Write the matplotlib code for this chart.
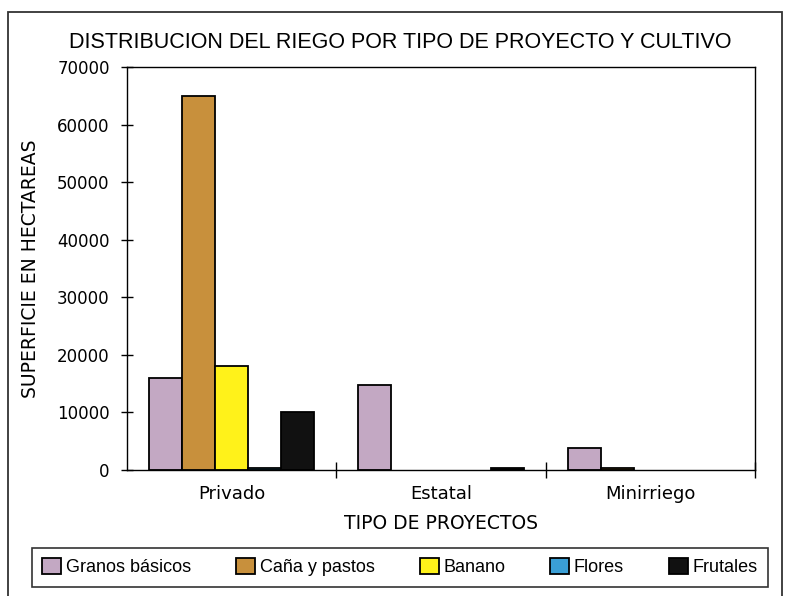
import numpy as np
import matplotlib
matplotlib.use("Agg")
import matplotlib.pyplot as plt
from matplotlib.patches import Rectangle

plt.rcParams['font.family'] = ['Liberation Sans', 'DejaVu Sans']

# data (hectares)
proyectos = ["Privado", "Estatal", "Minirriego"]
cultivos = ["Granos básicos", "Caña y pastos", "Banano", "Flores", "Frutales"]
granos = [16000, 14700, 3900]
cana = [65000, 0, 300]
banano = [18000, 0, 0]
flores = [400, 0, 0]
frutales = [10000, 300, 0]
y_ticks = [0, 10000, 20000, 30000, 40000, 50000, 60000, 70000]

series = [granos, cana, banano, flores, frutales]
colores = ["#c3a8c3", "#c8903c", "#fff21a", "#3a9fd6", "#111111"]

fig = plt.figure(figsize=(7.86, 5.96), dpi=100)
ax = fig.add_axes([0.1616, 0.2114, 0.7990, 0.6762])

x = np.arange(len(proyectos))
w = 0.158
for i, (vals, c) in enumerate(zip(series, colores)):
    # no outline for empty bars, so nothing is drawn along the axis
    lw = [1.3 if v > 0 else 0 for v in vals]
    ax.bar(x + (i - 2) * w, vals, width=w, color=c, edgecolor="black",
           linewidth=lw, label=cultivos[i])

ax.set_xlim(-0.5, 2.5)
ax.set_ylim(0, 70000)
ax.set_yticks(y_ticks)
ax.set_yticklabels([str(v) for v in y_ticks], fontsize=12, family="DejaVu Sans")
ax.tick_params(axis="y", direction="inout", length=9, width=1, pad=8)

ax.set_xticks(x)
ax.set_xticklabels(proyectos, fontsize=13, family="DejaVu Sans")
ax.tick_params(axis="x", which="major", length=0, pad=11)
ax.set_xticks([0.5, 1.5, 2.5], minor=True)
ax.tick_params(axis="x", which="minor", direction="inout", length=12, width=1)

for s in ax.spines.values():
    s.set_linewidth(1)

ax.set_xlabel("TIPO DE PROYECTOS", fontsize=13.5, family="DejaVu Sans", labelpad=8)
ax.set_ylabel("SUPERFICIE EN HECTAREAS", fontsize=13.5, family="DejaVu Sans", labelpad=12)

fig.text(0.509, 0.929, "DISTRIBUCION DEL RIEGO POR TIPO DE PROYECTO Y CULTIVO",
         ha="center", va="center", fontsize=15.5)

# outer border
fig.add_artist(Rectangle((0.0102, -0.02), 0.985, 1.0, transform=fig.transFigure,
                         fill=False, edgecolor="#333333", linewidth=1.3))

leg = fig.legend(loc="center", bbox_to_anchor=(0.509, 0.048), ncol=5,
                 fontsize=13, frameon=True, fancybox=False, edgecolor="black",
                 handlelength=1.05, handleheight=0.95, handletextpad=0.25,
                 columnspacing=2.5, borderpad=0.6, borderaxespad=0)
leg.get_frame().set_linewidth(1.2)

fig.savefig("out.png", dpi=100)
